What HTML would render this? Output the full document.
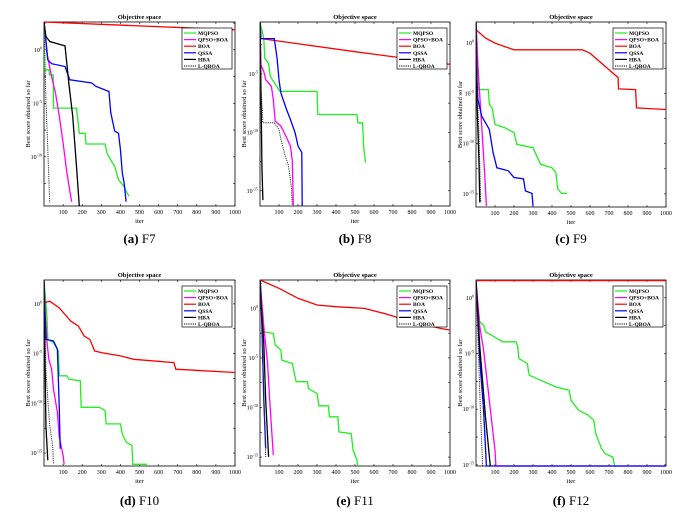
<!DOCTYPE html>
<html><head><meta charset="utf-8"><style>
html,body{margin:0;padding:0;background:#fff;}
svg{display:block;font-family:"Liberation Serif",serif;}
</style></head><body>
<svg id="fig" width="697" height="512" viewBox="0 0 697 512" xmlns="http://www.w3.org/2000/svg"></svg>
<script>
const seriesNames = ["MQPSO","QPSO+BOA","BOA","QSSA","HBA","L-QBOA"];
const captions = [["(a)","F7"],["(b)","F8"],["(c)","F9"],["(d)","F10"],["(e)","F11"],["(f)","F12"]];
const xTicks = [100,200,300,400,500,600,700,800,900,1000];
const yRanges = [[-14.6,2.6],[-16.3,-0.56],[-16.3,2.1],[-16.3,2.4],[-15.9,2.86],[-15.1,1.6]];
const yTickSets = [[0,-5,-10],[-5,-10,-15],[0,-5,-10,-15],[0,-5,-10,-15],[0,-5,-10,-15],[0,-5,-10,-15]];
// data: [iter, log10(best score)]
const F7_MQPSO=[[0,2.6],[3,-1.87],[25,-1.87],[30,-2.34],[48,-2.34],[50,-5.45],[170,-5.45],[185,-7.8],[215,-7.8],[220,-8.8],[320,-8.8],[330,-9.66],[350,-10.3],[370,-10.9],[390,-12.15],[420,-12.8],[430,-13.2],[445,-13.7]];
const F7_QPSOBOA=[[0,2.6],[15,-0.31],[40,-2.5],[60,-4.05],[80,-6.2],[100,-8.7],[120,-11.5],[140,-13.7],[145,-14.2]];
const F7_BOA=[[0,2.6],[1000,1.87]];
const F7_QSSA=[[0,2.6],[10,0.93],[20,-0.93],[40,-1.3],[110,-1.56],[135,-2.8],[250,-3.1],[270,-3.4],[340,-3.9],[350,-5.9],[370,-7.6],[390,-7.8],[400,-9.3],[410,-11.5],[420,-12.5],[430,-14.2]];
const F7_HBA=[[0,2.6],[10,1.25],[30,0.78],[110,0.37],[130,-3.1],[150,-6.2],[170,-10.9],[185,-14.6]];
const F7_LQBOA=[[0,2.6],[10,-4.7],[20,-9.3],[30,-14.3]];
const F8_MQPSO=[[0,-0.56],[20,-1.98],[25,-3.67],[45,-4.1],[55,-5.23],[105,-6.5],[300,-6.5],[305,-8.47],[510,-8.47],[515,-9.18],[540,-9.18],[545,-11.16],[550,-11.86],[555,-12.57]];
const F8_QPSOBOA=[[0,-0.56],[5,-4.24],[20,-4.8],[30,-5.5],[60,-6.07],[70,-7.2],[80,-9.04],[110,-9.46],[140,-10.45],[160,-11.16],[170,-12.43],[175,-16.3]];
const F8_BOA=[[0,-0.56],[5,-1.98],[500,-3.1],[1000,-4.18]];
const F8_QSSA=[[0,-0.56],[5,-1.98],[75,-1.98],[90,-3.67],[100,-5.5],[110,-6.64],[140,-8.05],[160,-8.9],[185,-10.03],[200,-11.16],[220,-11.72],[222,-16.3]];
const F8_HBA=[[0,-0.56],[5,-5.8],[10,-12.85],[15,-15.8]];
const F8_LQBOA=[[0,-0.56],[5,-6.07],[15,-9.18],[75,-9.18],[100,-9.75],[110,-10.6],[130,-11.86],[150,-12.85],[165,-14.7],[170,-16.3]];
const F9_MQPSO=[[0,2.1],[10,-2.15],[15,-4.62],[65,-4.62],[70,-6.1],[85,-6.44],[100,-8.09],[150,-8.4],[200,-8.9],[215,-10.07],[300,-10.4],[340,-12.05],[400,-12.4],[420,-12.87],[430,-14.5],[450,-14.95],[480,-14.95]];
const F9_QPSOBOA=[[0,2.1],[10,-2.3],[30,-8.25],[45,-12.87],[55,-16.2]];
const F9_BOA=[[0,1.32],[50,0.5],[100,0],[200,-0.66],[560,-0.66],[600,-1],[700,-2.64],[740,-3.3],[748,-3.4],[750,-4.55],[840,-4.62],[845,-6.44],[1000,-6.6]];
const F9_QSSA=[[0,2.1],[5,-3.3],[10,-5.6],[30,-7.26],[70,-8.58],[90,-10.9],[110,-12.4],[170,-12.7],[200,-13.37],[250,-13.5],[260,-14.7],[295,-14.95],[300,-16.2]];
const F9_HBA=[[0,2.1],[5,-5.6],[15,-11.55],[20,-15.85]];
const F9_LQBOA=[[0,2.1],[5,-3.96],[15,-8.9],[25,-15.85]];
const F10_MQPSO=[[0,2.4],[15,-1.23],[20,-3.57],[50,-3.9],[75,-4.73],[80,-7.23],[120,-7.23],[130,-7.57],[190,-7.73],[195,-10.4],[290,-10.4],[320,-10.73],[325,-12.07],[400,-12.07],[410,-13.07],[430,-13.9],[460,-14.23],[465,-16.13],[540,-16.13]];
const F10_QPSOBOA=[[0,2.4],[5,-0.57],[15,-3.73],[25,-5.57],[40,-6.57],[50,-8.57],[70,-10.9],[80,-13.4],[100,-15.23],[105,-16.13]];
const F10_BOA=[[0,0.1],[30,0.27],[80,-0.4],[110,-1.07],[140,-1.73],[180,-2.23],[210,-3.23],[240,-3.57],[265,-4.73],[300,-4.9],[400,-5.23],[470,-5.57],[680,-5.9],[690,-6.57],[1000,-6.9]];
const F10_QSSA=[[0,2.4],[10,-3.57],[50,-3.73],[70,-4.57],[80,-10.57],[85,-14.57]];
const F10_HBA=[[0,2.4],[5,-5.57],[10,-12.23],[20,-15.73]];
const F10_LQBOA=[[0,2.4],[10,-6.57],[20,-9.57],[30,-12.23],[45,-14.23],[50,-16.13]];
const F11_MQPSO=[[0,2.86],[10,0.17],[20,-2.36],[70,-2.53],[80,-3.7],[110,-4.2],[115,-5.22],[170,-5.56],[190,-7.4],[250,-7.4],[255,-8.08],[300,-8.59],[310,-9.83],[360,-9.83],[365,-10.94],[410,-10.94],[415,-12.46],[480,-12.63],[490,-14.3],[510,-15.3],[515,-15.9]];
const F11_QPSOBOA=[[0,2.86],[20,-1.85],[40,-5.56],[50,-8.92],[70,-14.8]];
const F11_BOA=[[0,2.86],[100,2.02],[200,1.01],[300,0.34],[400,0.17],[550,0],[650,-0.5],[800,-1.35],[950,-2.02],[1000,-2.19]];
const F11_QSSA=[[0,2.86],[3,2.19],[10,-1.85],[20,-9.26],[30,-14.14]];
const F11_HBA=[[0,2.86],[5,0.84],[20,-3.54],[30,-9.26],[45,-14.98]];
const F11_LQBOA=[[0,2.86],[10,-1.85],[20,-8.59],[30,-14.98]];
const F12_MQPSO=[[0,1.6],[5,-0.2],[20,-2.16],[40,-2.46],[50,-3.05],[80,-3.35],[140,-3.95],[210,-3.95],[220,-4.4],[225,-5.45],[270,-5.9],[280,-6.95],[340,-7.4],[420,-8],[490,-8.3],[500,-9.2],[540,-10.1],[590,-10.54],[620,-11],[630,-12.19],[660,-13.5],[680,-14],[720,-14.3],[730,-15.1]];
const F12_QPSOBOA=[[0,1.6],[20,-2.6],[40,-4.7],[60,-7.7],[80,-10.7],[100,-13.7],[105,-15.1],[1000,-15.1]];
const F12_BOA=[[0,1.55],[1000,1.55]];
const F12_QSSA=[[0,1.6],[20,-5.6],[40,-10.1],[55,-15.1],[1000,-15.1]];
const F12_HBA=[[0,1.6],[20,-4.4],[50,-10.7],[75,-15.1]];
const F12_LQBOA=[[0,1.6],[20,-8.6],[35,-15.1]];
const panelSeries=[
 [F7_MQPSO,F7_QPSOBOA,F7_BOA,F7_QSSA,F7_HBA,F7_LQBOA],
 [F8_MQPSO,F8_QPSOBOA,F8_BOA,F8_QSSA,F8_HBA,F8_LQBOA],
 [F9_MQPSO,F9_QPSOBOA,F9_BOA,F9_QSSA,F9_HBA,F9_LQBOA],
 [F10_MQPSO,F10_QPSOBOA,F10_BOA,F10_QSSA,F10_HBA,F10_LQBOA],
 [F11_MQPSO,F11_QPSOBOA,F11_BOA,F11_QSSA,F11_HBA,F11_LQBOA],
 [F12_MQPSO,F12_QPSOBOA,F12_BOA,F12_QSSA,F12_HBA,F12_LQBOA]];

const colors=["#22ee22","#ff00ff","#ff0000","#0000ff","#000000","#333333"];
const boxes=[[44,22,235,206],[260,22,450,206],[476,22,666,207],[44,280,235,466],[260,280,450,466],[476,280,666,466]];
const NS="http://www.w3.org/2000/svg";
const svg=document.getElementById('fig');
function mk(tag,attrs,parent){const e=document.createElementNS(NS,tag);for(const k in attrs)e.setAttribute(k,attrs[k]);(parent||svg).appendChild(e);return e;}

boxes.forEach((b,pi)=>{
  const [x0,y0,x1,y1]=b;
  const g=mk('g',{});
  
  
  const [ymin,ymax]=yRanges[pi];
  const sx=v=>x0+(v/1000)*(x1-x0);
  const sy=v=>y0+(ymax-v)/(ymax-ymin)*(y1-y0);
  const clipId='clip'+pi;
  const cp=mk('clipPath',{id:clipId},g);mk('rect',{x:x0,y:y0-1,width:x1-x0,height:y1-y0+2},cp);
  const frame=mk('rect',{x:x0,y:y0,width:x1-x0,height:y1-y0,fill:'#fff',stroke:'#000','stroke-width':0.8},g);
  
  
  // x ticks
  xTicks.forEach(t=>{
    const X=sx(t);
    mk('line',{x1:X,y1:y1,x2:X,y2:y1-2,stroke:'#000','stroke-width':0.6},g);
    mk('line',{x1:X,y1:y0,x2:X,y2:y0+2,stroke:'#000','stroke-width':0.6},g);
    const tl=mk('text',{x:X,y:y1+8,'font-size':6,'text-anchor':'middle'},g);tl.textContent=t;
    
    
  });
  // y ticks (major + minor every 2.5 decades)
  for(let v=Math.ceil(ymin);v<=ymax;v++){
    if(v%5!==0 && v%5!==-0 && (v*2)%5!==0) {}
  }
  for(let v=Math.ceil(ymin/2.5)*2.5;v<=ymax;v+=2.5){
    const Y=sy(v);
    mk('line',{x1:x0,y1:Y,x2:x0+2,y2:Y,stroke:'#000','stroke-width':0.6},g);
    mk('line',{x1:x1,y1:Y,x2:x1-2,y2:Y,stroke:'#000','stroke-width':0.6},g);
  }
  yTickSets[pi].forEach(v=>{
    const Y=sy(v);
    const tl=mk('text',{x:x0-2,y:Y+2,'font-size':6,'text-anchor':'end'},g);
    
    
    const a=mk('tspan',{},tl);a.textContent='10';
    const s=mk('tspan',{dy:-2.5,'font-size':4},tl);s.textContent=String(v);
  });
  // title
  const tt=mk('text',{x:(x0+x1)/2,y:y0-3,'font-size':6.5,'text-anchor':'middle','font-weight':'bold'},g);tt.textContent='Objective space';
  
  
  const xl=mk('text',{x:(x0+x1)/2,y:y1+17,'font-size':6.5,'text-anchor':'middle'},g);xl.textContent='iter';
  
  
  const cy=(y0+y1)/2, lx=x0-14;
  const yl=mk('text',{x:lx,y:cy,'font-size':6.5,'text-anchor':'middle',transform:`rotate(-90 ${lx} ${cy})`},g);yl.textContent='Best score obtained so far';
  
  
  // series
  const sg=mk('g',{'clip-path':`url(#${clipId})`},g);
  panelSeries[pi].forEach((arr,si)=>{
    const pts=arr.map(p=>sx(p[0]).toFixed(1)+','+sy(p[1]).toFixed(1)).join(' ');
    const pl=mk('polyline',{points:pts,fill:'none',stroke:colors[si],'stroke-width':si===5?1:1.3,'stroke-dasharray':si===5?'1.2,1':'none'},sg);
    
    
  });
  // legend
  const lgX=x1-53, lgY=y0+6;
  const lg=mk('g',{},g);
  
  
  mk('rect',{x:lgX,y:lgY,width:50,height:41,fill:'#fff',stroke:'#000','stroke-width':0.7},lg);
  seriesNames.forEach((n,si)=>{
    const Y=lgY+5+si*6.6;
    const en=mk('g',{},lg);
    
    
    mk('line',{x1:lgX+2,y1:Y,x2:lgX+14,y2:Y,stroke:colors[si],'stroke-width':1.2,'stroke-dasharray':si===5?'1.2,1':'none'},en);
    const t=mk('text',{x:lgX+16,y:Y+2,'font-size':5.5,'font-weight':'bold'},en);t.textContent=n;
  });
  // caption
  const cap=mk('text',{x:(x0+x1)/2,y:pi<3?243:505,'font-size':13,'text-anchor':'middle'},svg);
  
  
  const c1=mk('tspan',{'font-weight':'bold'},cap);c1.textContent=captions[pi][0]+' ';
  const c2=mk('tspan',{},cap);c2.textContent=captions[pi][1];
});
</script>
</body></html>
